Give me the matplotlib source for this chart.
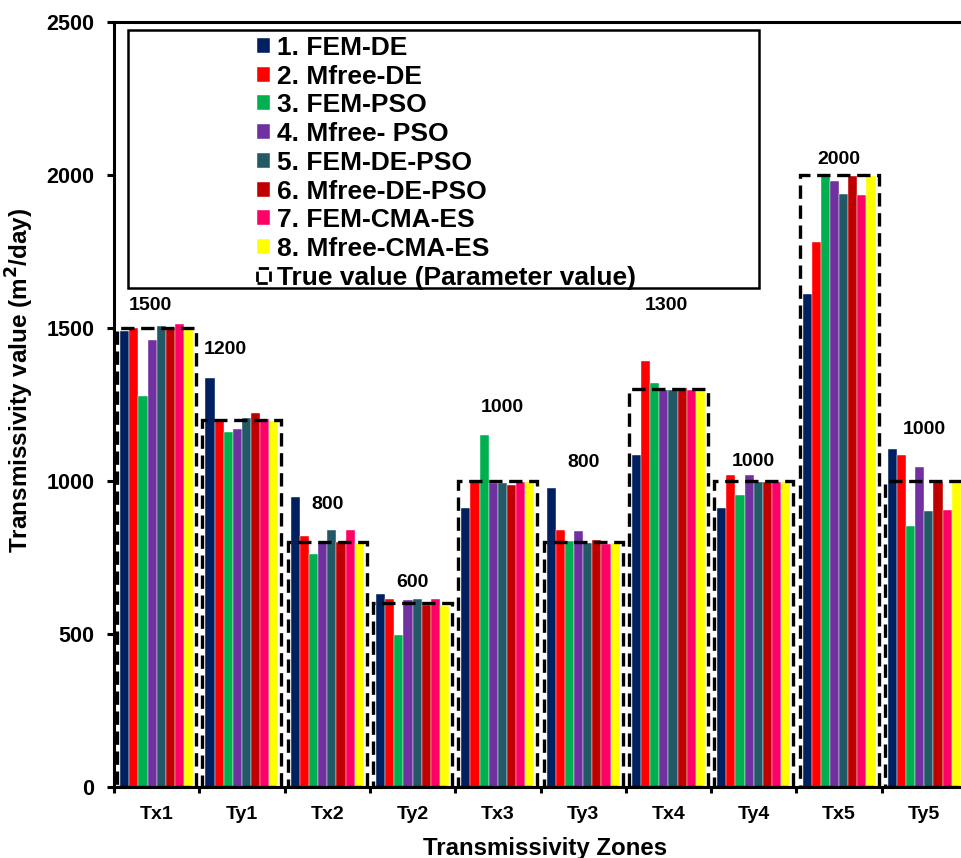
import numpy as np
import matplotlib
matplotlib.use('Agg')
import matplotlib.pyplot as plt
from matplotlib.patches import Rectangle, Patch

plt.rcParams['font.family'] = ['Liberation Sans', 'DejaVu Sans']
plt.rcParams['font.weight'] = 'bold'

zones = ['Tx1', 'Ty1', 'Tx2', 'Ty2', 'Tx3', 'Ty3', 'Tx4', 'Ty4', 'Tx5', 'Ty5']
true_vals = [1500, 1200, 800, 600, 1000, 800, 1300, 1000, 2000, 1000]

methods = ['1. FEM-DE', '2. Mfree-DE', '3. FEM-PSO', '4. Mfree- PSO',
           '5. FEM-DE-PSO', '6. Mfree-DE-PSO', '7. FEM-CMA-ES', '8. Mfree-CMA-ES']
colors = ['#002060', '#FF0000', '#00B050', '#7030A0',
          '#215967', '#C00000', '#FF0066', '#FFFF00']

fem_de       = [1490, 1335, 948, 631, 912, 977, 1084, 912, 1610, 1105]
mfree_de     = [1500, 1203, 819, 615, 996, 841, 1391, 1019, 1782, 1084]
fem_pso      = [1277, 1159, 760, 497, 1149, 803, 1321, 955, 1997, 852]
mfree_pso    = [1460, 1170, 797, 612, 992, 836, 1299, 1019, 1981, 1046]
fem_de_pso   = [1508, 1207, 841, 615, 993, 797, 1299, 996, 1939, 901]
mfree_de_pso = [1501, 1223, 800, 596, 986, 808, 1303, 996, 1997, 998]
fem_cma      = [1514, 1201, 841, 615, 997, 795, 1299, 996, 1934, 906]
mfree_cma    = [1498, 1196, 797, 593, 998, 797, 1299, 996, 1997, 996]
series = [fem_de, mfree_de, fem_pso, mfree_pso, fem_de_pso, mfree_de_pso, fem_cma, mfree_cma]

# where the true-value labels sit
label_y = [1574, 1430, 923, 668, 1240, 1060, 1575, 1064, 2052, 1168]
label_dx = [-0.07, -0.19, 0, 0, 0.05, 0, -0.02, 0, 0, 0]

W, H = 962, 858
fig = plt.figure(figsize=(W/100, H/100), dpi=100)
ax = fig.add_axes([114/W, 71/H, 853/W, 765/H])

x = np.arange(len(zones))
bw = 0.107
handles = []
for k, (vals, c, lab) in enumerate(zip(series, colors, methods)):
    b = ax.bar(x + (k - 3.5)*bw, vals, bw, color=c, label=lab, zorder=2,
               edgecolor='white', linewidth=0.3)
    handles.append(b)

for i, tv in enumerate(true_vals):
    ax.add_patch(Rectangle((i - 0.463, 0), 0.926, tv, fill=False, ec='k',
                           lw=2.4, ls=(0, (4, 2)), zorder=3))
    ax.text(i + label_dx[i], label_y[i], str(tv), ha='center', va='center',
            fontsize=14, fontweight='bold')

ax.set_xlim(-0.5, 9.5)
ax.set_ylim(0, 2500)
ax.set_yticks([0, 500, 1000, 1500, 2000, 2500])
ax.set_xticks(x)
ax.set_xticklabels(zones)
ax.set_xticks(np.arange(-0.5, 10, 1), minor=True)
ax.tick_params(axis='x', which='major', length=0, pad=14, labelsize=14)
ax.tick_params(axis='x', which='minor', length=4, width=2.2, direction='out')
ax.tick_params(axis='y', length=5, width=2.2, pad=9, labelsize=15.5)
for s in ['left', 'bottom', 'top']:
    ax.spines[s].set_linewidth(2.2)
ax.spines['right'].set_visible(False)

ax.set_ylabel('Transmissivity value (m$^{\\mathbf{2}}$/day)', fontsize=17.5, fontweight='bold')
ax.yaxis.set_label_coords(-0.092, 0.532)
ax.set_xlabel('Transmissivity Zones', fontsize=17.3, fontweight='bold')
ax.xaxis.set_label_coords(0.505, -0.065)

true_h = Patch(facecolor='none', edgecolor='k', lw=2, ls='--')
fig.legend(handles + [true_h], methods + ['True value (Parameter value)'],
           loc='upper left', bbox_to_anchor=(241/W, 1 - 20/H), frameon=False,
           fontsize=19, handlelength=0.5, handleheight=0.5, handletextpad=0.25,
           labelspacing=0.18, borderpad=0.1)
fig.patches.append(Rectangle((128/W, 1 - 288/H), 631/W, 258/H, fill=False,
                             ec='k', lw=1.8, transform=fig.transFigure, figure=fig))

fig.savefig('out.png', dpi=100)
